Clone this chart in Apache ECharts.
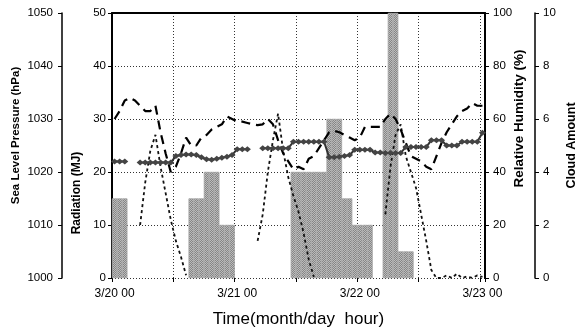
<!DOCTYPE html>
<html>
<head>
<meta charset="utf-8">
<script src="https://cdn.jsdelivr.net/npm/echarts@6/dist/echarts.min.js"></script>
<style>
  html, body { margin: 0; padding: 0; background: #fff; }
  #chart { width: 577px; height: 332px; }
</style>
</head>
<body>
<div id="chart"></div>
<script>
// hourly categories 3/20 00 .. 3/23 00
const days = ['3/20', '3/21', '3/22']
const hours = []
days.forEach(d => {
  for (let h = 0; h < 24; h++) hours.push(d + ' ' + (h < 10 ? '0' + h : h))
})
hours.push('3/23 00')

// cloud amount (0-10), bars
const cloudAmount = [
  3, 3, 3, null, null, null, null, null, null, null, null, null,
  null, null, null, 3, 3, 3, 4, 4, 4, 2, 2, 2,
  null, null, null, null, null, null, null, null, null, null, null, 4,
  4, 4, 4, 4, 4, 4, 6, 6, 6, 3, 3, 2,
  2, 2, 2, null, null, 6, 10, 10, 1, 1, 1, null,
  null, null, null, null, null, null, null, null, null, null, null, null,
  null
]

// radiation (MJ), short dashes, missing at night
const radiation = [
  null, null, null, null, null, 10, 18, 24, 27, 21, 16, 11,
  7, 4, 0.5, null, null, null, null, null, null, null, null, null,
  null, null, null, null, 7, 12, 20, 26, 31, 24, 19, 15.5,
  12.5, 8.5, 3.5, 0.2, null, null, null, null, null, null, null, null,
  null, null, null, null, null, 12, 21, 27, 29, 23, 20, 17,
  12, 7, 1.5, 0, 0, 0.5, 0, 0.8, 0, 0.3, 0, 0.5,
  0.2
]

// relative humidity (%), long dashes
const humidity = [
  60, 63, 67, 68, 67, 65, 63, 63, 65, 55, 47, 40,
  42, 47, 53, 50, 50, 53, 54, 56, 57, 58, 61, 60,
  59, 59, 58.5, 58, 57.7, 58, 60, 58, 52, 47, 44, 41,
  42, 41, 45, 46, 49, 52, 55, 55.5, 55, 54, 53, 52,
  53, 57, 57, 57, 57, 60, 62, 60, 56, 51, 46, 45,
  44, 42, 41, 46, 51, 55, 58, 61, 63, 64, 66, 65,
  65
]

// sea level pressure (hPa), diamonds
const pressure = [
  1022, 1022, 1022, null, null, 1021.8, 1021.8, 1021.8, 1021.8, 1021.8, 1021.8, 1021.8,
  1023, 1023.2, 1023.3, 1023.3, 1023.2, 1022.8, 1022.4, 1022.3, 1022.5, 1022.7, 1022.9, 1023.2,
  1024.3, 1024.3, 1024.3, null, null, 1024.5, 1024.5, 1024.5, 1024.5, 1024.5, 1024.5, 1025.7,
  1025.7, 1025.7, 1025.7, 1025.7, 1025.7, 1025.7, 1022.8, 1022.8, 1022.9, 1023, 1023.2, 1024.2,
  1024.2, 1024.2, 1024.2, 1023.7, 1023.7, 1023.6, 1023.6, 1023.6, 1023.6, 1024.7, 1024.7, 1024.7,
  1024.7, 1024.7, 1026, 1026, 1026, 1025, 1025, 1025, 1025.7, 1025.7, 1025.7, 1025.7,
  1027.4
]

const font = 'Liberation Sans, Arial, sans-serif'
const dotted = { color: '#333', width: 1, type: [1, 2] }

function yAxisBase (opts) {
  return Object.assign({
    type: 'value',
    axisLine: { show: true, lineStyle: { color: '#000', width: 2 } },
    axisTick: { show: true, length: 4, lineStyle: { color: '#000' } },
    splitLine: { show: false },
    nameLocation: 'middle',
    nameMoveOverlap: false
  }, opts)
}

function tickLabel (margin) {
  return { color: '#000', fontSize: 11.5, fontFamily: font, margin: margin, formatter: v => String(v) }
}

function titleStyle (size, padding) {
  return { color: '#000', fontFamily: font, fontWeight: 'bold', fontSize: size, padding: padding }
}

let chart = echarts.init(document.getElementById('chart'), null, { renderer: 'canvas' })
let option = {
  animation: false,
  backgroundColor: '#fff',
  grid: { left: 112, right: 92, top: 13, bottom: 54, containLabel: false, outerBoundsMode: 'none' },
  xAxis: [
    {
      type: 'category',
      data: hours,
      boundaryGap: true,
      axisLine: { show: false },
      axisTick: { show: true, interval: 11, length: 4, lineStyle: { color: '#000' } },
      axisLabel: { interval: 23, color: '#000', fontSize: 12, fontFamily: font, margin: 10 },
      splitLine: { show: true, interval: 11, lineStyle: dotted },
      name: 'Time(month/day  hour)',
      nameLocation: 'middle',
      nameMoveOverlap: false,
      nameGap: 33,
      nameTextStyle: { color: '#000', fontSize: 17, fontFamily: font }
    },
    {
      // top frame line
      type: 'category',
      data: hours,
      position: 'top',
      axisLine: { show: true, onZero: false, lineStyle: { color: '#000', width: 2 } },
      axisTick: { show: false },
      axisLabel: { show: false },
      splitLine: { show: false }
    }
  ],
  yAxis: [
    yAxisBase({
      name: 'Radiation (MJ)', position: 'left', min: 0, max: 50, interval: 10,
      nameGap: 29,
      axisLabel: tickLabel(6),
      nameTextStyle: titleStyle(12, [0, 95, 0, 0]),
      splitLine: { show: true, lineStyle: dotted }
    }),
    yAxisBase({
      name: 'Sea Level Pressure (hPa)', position: 'left', offset: 50,
      min: 1000, max: 1050, interval: 10, nameGap: 40,
      axisLine: { show: true, lineStyle: { color: '#000', width: 1.5 } },
      axisLabel: tickLabel(9),
      nameTextStyle: titleStyle(11.5, [0, 0, 0, 20])
    }),
    yAxisBase({
      name: 'Relative Humidity (%)', position: 'right', min: 0, max: 100, interval: 20,
      nameGap: 27,
      axisLabel: tickLabel(8),
      nameTextStyle: titleStyle(13.5, [0, 0, 0, 54])
    }),
    yAxisBase({
      name: 'Cloud Amount', position: 'right', offset: 50, min: 0, max: 10, interval: 2,
      nameGap: 30,
      axisLine: { show: true, lineStyle: { color: '#000', width: 1.5 } },
      axisLabel: tickLabel(8),
      nameTextStyle: titleStyle(12.5, [0, 0, 0, 0])
    })
  ],
  series: [
    {
      name: 'Cloud Amount',
      type: 'bar',
      yAxisIndex: 3,
      data: cloudAmount,
      barWidth: '100%',
      barCategoryGap: '0%',
      itemStyle: {
        color: '#bcbcbc',
        borderColor: '#ababab',
        borderWidth: 0.6,
        decal: {
          symbol: 'rect',
          symbolSize: 1,
          color: '#858585',
          dashArrayX: [[1, 1], [0, 1, 1, 0]],
          dashArrayY: [1, 0]
        }
      },
      z: 1
    },
    {
      name: 'Radiation',
      type: 'line',
      yAxisIndex: 0,
      data: radiation,
      symbol: 'none',
      lineStyle: { color: '#111', width: 1.8, type: [3, 3] },
      z: 3
    },
    {
      name: 'Relative Humidity',
      type: 'line',
      yAxisIndex: 2,
      data: humidity,
      symbol: 'none',
      lineStyle: { color: '#000', width: 2.2, type: [9, 6] },
      z: 3
    },
    {
      name: 'Sea Level Pressure',
      type: 'line',
      yAxisIndex: 1,
      data: pressure,
      symbol: 'diamond',
      symbolSize: [7, 6],
      showAllSymbol: true,
      itemStyle: { color: '#444' },
      lineStyle: { color: '#333', width: 2 },
      z: 4
    }
  ]
}
chart.setOption(option, true)
</script>
</body>
</html>
